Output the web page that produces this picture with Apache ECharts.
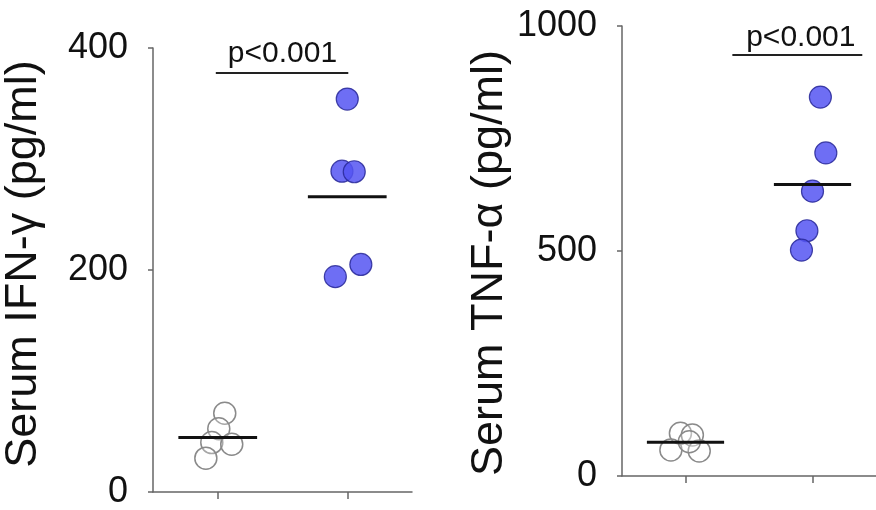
<!DOCTYPE html>
<html>
<head>
<meta charset="utf-8">
<script src="https://cdn.jsdelivr.net/npm/echarts@6/dist/echarts.min.js"></script>
<style>
html,body{margin:0;padding:0;background:#fff;}
#chart{width:876px;height:510px;}
</style>
</head>
<body>
<div id="chart"></div>
<script>
// ---- data ----
const groups = ['Control', 'Treated'];
// IFN-gamma panel (pg/ml)
const ifnControl = [71, 57, 44.5, 43, 30.5];
const ifnControlX = [0.554, 0.508, 0.454, 0.608, 0.408];
const ifnTreated = [354, 289, 288.5, 194, 205];
const ifnTreatedX = [1.5, 1.459, 1.554, 1.408, 1.605];
const ifnTicks = [0, 200, 400];
// TNF-alpha panel (pg/ml)
const tnfControl = [95, 91, 58, 55.5, 76];
const tnfControlX = [0.46, 0.554, 0.385, 0.608, 0.53];
const tnfTreated = [842, 718, 633, 545, 502];
const tnfTreatedX = [1.562, 1.605, 1.5, 1.456, 1.413];
const tnfTicks = [0, 500, 1000];
// significance annotations: [x1, x2, y, textX, textY]
const ifnSig = [0.485, 1.508, 377.5, 1.0, 395];
const tnfSig = [0.869, 1.892, 935.6, 1.408, 975];
const sigText = 'p<0.001';
const meanHalfWidth = 0.304;

const FONT = '"Liberation Sans", Arial, Helvetica, sans-serif';
const axisColor = '#666';

function mean(a){return a.reduce((s,v)=>s+v,0)/a.length;}
function zip(xs, ys){return ys.map((y,i)=>[xs[i], y]);}

const openStyle = {color:'rgba(255,255,255,0.25)', borderColor:'#8a8a8a', borderWidth:1.5, opacity:1};
const blueStyle = {color:'rgba(85,85,242,0.85)', borderColor:'rgba(40,40,150,0.85)', borderWidth:1.2, opacity:1};

function catAxis(gi){
  return {
    type:'category', gridIndex:gi, data:groups, boundaryGap:true,
    axisLine:{show:true, lineStyle:{color:axisColor, width:1.5}},
    axisTick:{show:true, alignWithLabel:true, length:7, lineStyle:{color:axisColor, width:1.5}},
    axisLabel:{show:false}, splitLine:{show:false}, z:1
  };
}
function valXAxis(gi){
  return {type:'value', gridIndex:gi, min:0, max:2, show:false};
}
function yAxis(gi, max, interval, name, gap, pad){
  return {
    type:'value', gridIndex:gi, min:0, max:max, interval:interval,
    name:name, nameLocation:'middle', nameGap:gap,
    nameTextStyle:{fontFamily:FONT, fontSize:45, color:'#111', padding:pad},
    axisLine:{show:true, lineStyle:{color:axisColor, width:1.5}},
    axisTick:{show:true, length:5, lineStyle:{color:axisColor, width:1.5}},
    axisLabel:{fontFamily:FONT, fontSize:36, color:'#111', margin:25, formatter:(v)=>String(v)},
    splitLine:{show:false}
  };
}
function meanLine(xAxisIndex, yAxisIndex, center, vals){
  const m = mean(vals);
  return {type:'line', xAxisIndex, yAxisIndex, data:[[center-meanHalfWidth, m],[center+meanHalfWidth, m]],
    symbol:'none', lineStyle:{color:'#111', width:3}, z:5, silent:true};
}
function sigSeries(xAxisIndex, yAxisIndex, s){
  return [
    {type:'line', xAxisIndex, yAxisIndex, data:[[s[0], s[2]],[s[1], s[2]]], symbol:'none',
     lineStyle:{color:'#222', width:1.8}, silent:true},
    {type:'scatter', xAxisIndex, yAxisIndex, data:[[s[3], s[4]]], symbolSize:0,
     itemStyle:{color:'transparent', opacity:1},
     label:{show:true, position:'inside', formatter:sigText, fontFamily:FONT, fontSize:30, color:'#111',
            textBorderWidth:0, textBorderColor:'transparent'}, silent:true}
  ];
}

const option = {
  animation:false,
  backgroundColor:'#fff',
  grid:[
    {left:152, top:48, width:260, height:449},
    {left:622, top:26, width:260, height:450}
  ],
  xAxis:[catAxis(0), valXAxis(0), catAxis(1), valXAxis(1)],
  yAxis:[
    yAxis(0, ifnTicks[2], ifnTicks[1], 'Serum IFN-γ (pg/ml)', 107, [0,0,0,12]),
    yAxis(1, tnfTicks[2], tnfTicks[1], 'Serum TNF-α (pg/ml)', 110, [0,24,0,0])
  ],
  series:[
    {type:'scatter', xAxisIndex:1, yAxisIndex:0, data:zip(ifnControlX, ifnControl), symbolSize:22, itemStyle:openStyle, z:3},
    {type:'scatter', xAxisIndex:1, yAxisIndex:0, data:zip(ifnTreatedX, ifnTreated), symbolSize:22, itemStyle:blueStyle, z:3},
    meanLine(1, 0, 0.5, ifnControl),
    meanLine(1, 0, 1.5, ifnTreated),
    ...sigSeries(1, 0, ifnSig),
    {type:'scatter', xAxisIndex:3, yAxisIndex:1, data:zip(tnfControlX, tnfControl), symbolSize:22, itemStyle:openStyle, z:3},
    {type:'scatter', xAxisIndex:3, yAxisIndex:1, data:zip(tnfTreatedX, tnfTreated), symbolSize:22, itemStyle:blueStyle, z:3},
    meanLine(3, 1, 0.5, tnfControl),
    meanLine(3, 1, 1.5, tnfTreated),
    ...sigSeries(3, 1, tnfSig)
  ]
};
const chart = echarts.init(document.getElementById('chart'), null, {renderer:'canvas'});
chart.setOption(option);
</script>
</body>
</html>
